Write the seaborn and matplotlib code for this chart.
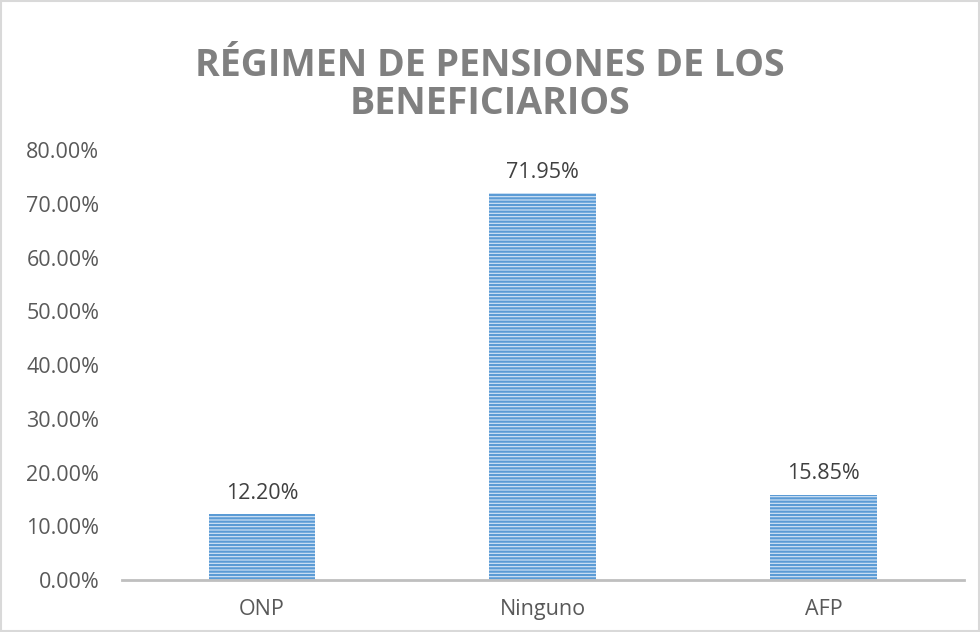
import matplotlib
matplotlib.use("Agg")
import matplotlib.pyplot as plt
import seaborn as sns
import pandas as pd
from matplotlib.patches import Rectangle

categories = ["ONP", "Ninguno", "AFP"]
values = [0.1220, 0.7195, 0.1585]
labels = ["12.20%", "71.95%", "15.85%"]
yticks = [0.0, 0.1, 0.2, 0.3, 0.4, 0.5, 0.6, 0.7, 0.8]
title = "RÉGIMEN DE PENSIONES DE LOS\nBENEFICIARIOS"

sns.set_theme(style="white")
plt.rcParams['font.family'] = ['Open Sans', 'DejaVu Sans']
plt.rcParams['hatch.color'] = '#5b9bd5'
plt.rcParams['hatch.linewidth'] = 1.6

df = pd.DataFrame({"cat": categories, "val": values})
fig = plt.figure(figsize=(9.8, 6.32), dpi=100)
ax = fig.add_axes([0.124, 0.0823, 0.8597, 0.680])
sns.barplot(data=df, x="cat", y="val", ax=ax, color="#d6e6f6", width=0.38,
            saturation=1)
for p in ax.patches:
    p.set_hatch('-----')
    p.set_edgecolor('#5b9bd5')
    p.set_linewidth(0)

ax.set_ylim(0, 0.8)
ax.set_xlim(-0.5, 2.5)
ax.set_yticks(yticks)
ax.set_yticklabels([f"{t*100:.2f}%" for t in yticks])
ax.set_xlabel("")
ax.set_ylabel("")
for s in ["top", "right", "left"]:
    ax.spines[s].set_visible(False)
ax.spines["bottom"].set_color("#bfbfbf")
ax.spines["bottom"].set_linewidth(2)
ax.tick_params(axis='both', length=0, labelsize=15.5, colors="#595959")
ax.tick_params(axis='x', pad=14)
ax.tick_params(axis='y', pad=16)

for i, (v, lab) in enumerate(zip(values, labels)):
    ax.text(i, v + 0.02, lab, ha="center", va="bottom", fontsize=15.5, color="#404040")

fig.text(0.5, 0.866, title, ha="center", va="center", fontsize=27, fontweight="bold",
         color="#808080", linespacing=1.0)

fig.patches.append(Rectangle((0.001, 0.001), 0.998, 0.998, transform=fig.transFigure,
                             fill=False, edgecolor="#d9d9d9", linewidth=1.5))
fig.savefig("out.png", dpi=100)
